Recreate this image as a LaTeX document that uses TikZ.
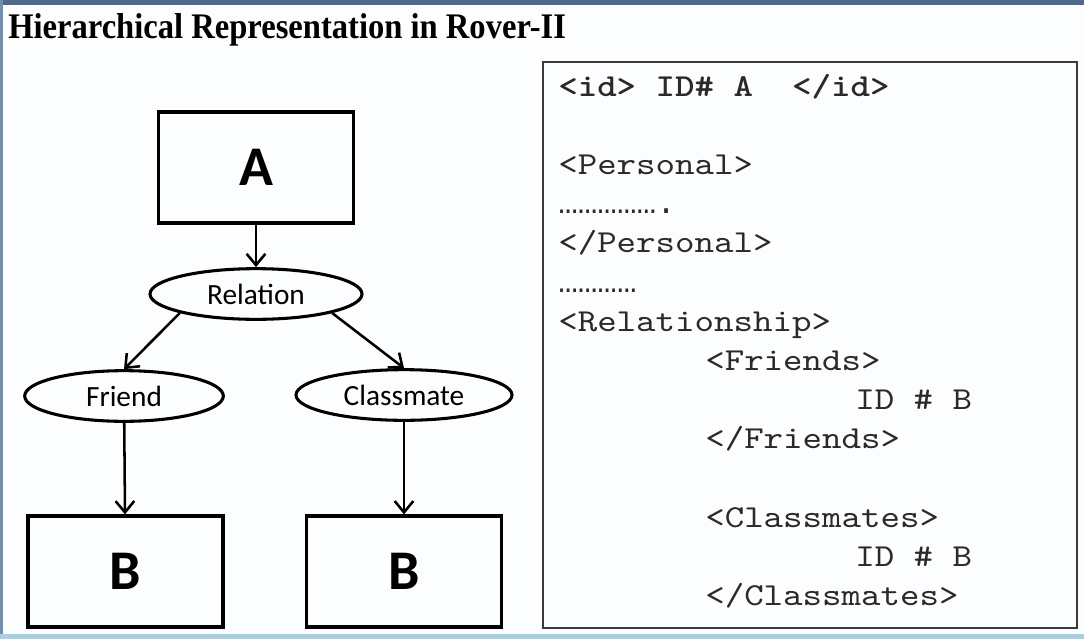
\documentclass[tikz,border=0pt]{standalone}
\usepackage{fontspec}
\setmainfont{Liberation Serif}
\newfontfamily\diagfont{Carlito}
\newfontfamily\dotfont{Liberation Mono}
\newfontfamily\codefont{lmmono10-regular.otf}[FakeStretch=1.16,BoldFont=lmmonolt10-bold.otf,BoldFeatures={FakeStretch=1.16}]
\usetikzlibrary{arrows.meta,shapes.geometric}
\definecolor{frametop}{HTML}{4D6A8C}
\definecolor{frameleft}{HTML}{7090B2}
\definecolor{framebottom}{HTML}{A9CFE3}
\definecolor{boxgrey}{HTML}{3A3A3A}
\definecolor{pagebg}{HTML}{FCFDFE}
\definecolor{codeink}{HTML}{2A2A2A}
\begin{document}
\begin{tikzpicture}[x=0.75pt,y=-0.75pt,
  entity/.style={draw=black,line width=2.7pt,minimum width=146pt,minimum height=83pt,inner sep=0pt,
    font=\diagfont\bfseries\fontsize{42}{48}\selectfont},
  relnode/.style={draw=black,ellipse,line width=2.3pt,inner sep=0pt,
    font=\diagfont\fontsize{22}{26}\selectfont},
  link/.style={line width=1.9pt,-{Straight Barb[length=8.5pt,width=14pt,line width=1.9pt]}},
  codeline/.style={anchor=base west,inner sep=0pt,text=codeink,font=\codefont\fontsize{24}{29}\selectfont}]
  % page and frame
  \fill[pagebg] (0,0) rectangle (1084,639);
  \useasboundingbox (0,0) rectangle (1084,639);
  \fill[frametop] (0,0) rectangle (1084,5);
  \fill[frameleft] (0,0) rectangle (3,639);
  \fill[framebottom] (0,634) rectangle (1084,639);
  % title
  \node[anchor=base west,inner sep=0pt,font=\bfseries\fontsize{27}{30}\selectfont] (title) at (8,38)
    {\scalebox{0.905}[1]{Hierarchical Representation in Rover-II}};
  % left: hierarchy
  \node[entity] (a) at (256,167.5) {A};
  \node[relnode,minimum width=159pt,minimum height=38pt] (rel) at (256,294) {Relation};
  \node[relnode,minimum width=149pt,minimum height=38pt] (friend) at (124,396) {Friend};
  \node[relnode,minimum width=162pt,minimum height=38pt] (classm) at (404,395) {Classmate};
  \node[entity] (b1) at (125.5,571.5) {B};
  \node[entity] (b2) at (404,571.5) {B};
  \draw[link] (a) -- (rel);
  \draw[link] (rel.194) -- (friend.north);
  \draw[link] (rel.-14) -- (classm.north);
  \draw[link] (friend) -- (b1);
  \draw[link] (classm) -- (b2);
  % right: record listing
  \node[draw=boxgrey,line width=1.5pt,minimum width=400.5pt,minimum height=424.5pt,inner sep=0pt] (record) at (810,345) {};
  \node[codeline,font=\codefont\bfseries\fontsize{24}{29}\selectfont] (l0) at (558,96) {<id> ID\# A\ \ </id>};
  \node[codeline] (l2) at (558,174.4) {<Personal>};
  \node[codeline,font=\dotfont\fontsize{24.5}{29}\selectfont] (l3) at (558,213.6) {…………….};
  \node[codeline] (l4) at (558,252.8) {</Personal>};
  \node[codeline,font=\dotfont\fontsize{24.5}{29}\selectfont] (l5) at (558,292) {…………};
  \node[codeline] (l6) at (558,331.2) {<Relationship>};
  \node[codeline] (l7) at (705,370.4) {<Friends>};
  \node[codeline] (l8) at (855,409.6) {ID \# B};
  \node[codeline] (l9) at (705,448.8) {</Friends>};
  \node[codeline] (l11) at (705,527.2) {<Classmates>};
  \node[codeline] (l12) at (855,566.4) {ID \# B};
  \node[codeline] (l13) at (705,605.6) {</Classmates>};
\end{tikzpicture}
\end{document}
